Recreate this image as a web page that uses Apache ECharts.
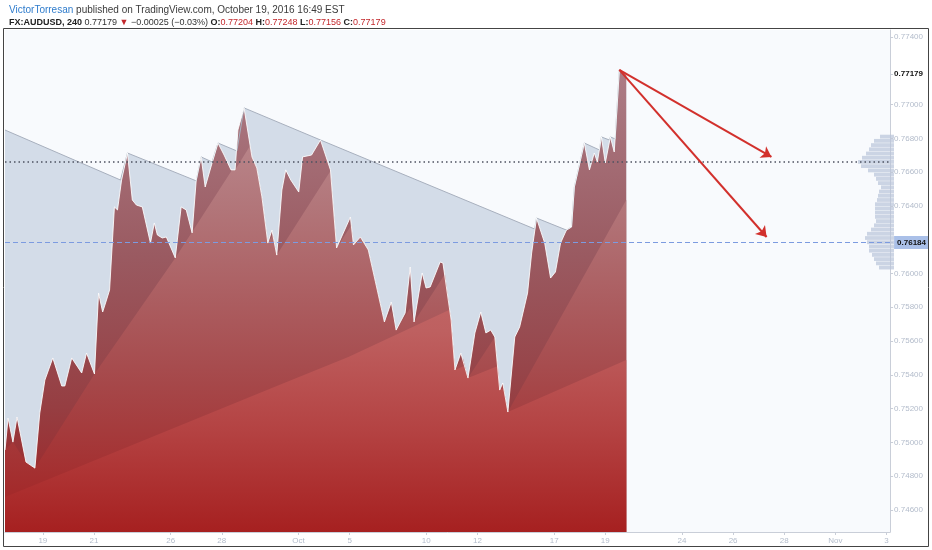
<!DOCTYPE html>
<html>
<head>
<meta charset="utf-8">
<title>FX:AUDUSD, 240</title>
<script src="https://cdn.jsdelivr.net/npm/echarts@6/dist/echarts.min.js"></script>
<style>
html,body{margin:0;padding:0;background:#fff;}
#main{width:932px;height:550px;}
</style>
</head>
<body>
<div id="main"></div>
<script>
// x = trading day index (Sep 19 = 0), y = AUDUSD price
let price_x = [-1.48,-1.36,-1.17,-1.01,-0.66,-0.31,-0.12,0.08,0.39,0.74,
    0.86,1.13,1.52,1.71,2.02,2.18,2.34,2.49,2.61,2.80,
    2.92,3.08,3.31,3.50,3.66,3.89,4.21,4.36,4.48,4.67,
    4.83,5.18,5.41,5.61,5.84,6.00,6.19,6.35,6.62,6.85,
    7.09,7.36,7.52,7.63,7.87,8.18,8.37,8.57,8.80,8.96,
    9.15,9.35,9.50,9.70,10.01,10.16,10.51,10.86,11.25,11.49,
    12.03,12.15,12.42,12.73,13.01,13.36,13.63,13.82,14.17,14.37,
    14.52,14.84,14.99,15.15,15.54,15.65,15.97,16.12,16.35,16.63,
    16.90,17.13,17.33,17.52,17.68,17.87,17.99,18.19,18.46,18.65,
    18.96,19.12,19.31,19.63,19.86,20.05,20.25,20.48,20.68,20.79,
    21.18,21.38,21.57,21.69,21.85,22.00,22.20,22.35,22.43,22.55,22.82];
let price_y = [0.74955,0.75144,0.75002,0.75150,0.74884,0.74848,0.75174,0.75369,0.75500,0.75334,
    0.75334,0.75500,0.75411,0.75529,0.75405,0.75884,0.75772,0.75843,0.75902,0.76394,
    0.76376,0.76553,0.76713,0.76435,0.76405,0.76394,0.76180,0.76299,0.76228,0.76210,
    0.76216,0.76092,0.76394,0.76376,0.76240,0.76553,0.76690,0.76512,0.76654,0.76772,
    0.76701,0.76613,0.76613,0.76849,0.76980,0.76690,0.76624,0.76453,0.76180,0.76257,
    0.76109,0.76494,0.76613,0.76553,0.76482,0.76690,0.76701,0.76790,0.76613,0.76151,
    0.76334,0.76169,0.76216,0.76139,0.75950,0.75713,0.75831,0.75665,0.75766,0.76038,
    0.75713,0.76003,0.75914,0.75920,0.76068,0.76062,0.75725,0.75429,0.75529,0.75381,
    0.75648,0.75772,0.75648,0.75665,0.75624,0.75310,0.75352,0.75180,0.75624,0.75683,
    0.75884,0.76121,0.76328,0.76180,0.75973,0.76009,0.76180,0.76257,0.76275,0.76512,
    0.76772,0.76613,0.76713,0.76660,0.76808,0.76654,0.76808,0.76719,0.76909,0.77205,0.77179];

// light blue band above the price (upper envelope)
let env_x = [-1.48,3.04,3.31,6.00,6.19,6.62,6.85,7.59,7.87,10.86,19.24,19.31,20.48,20.68,20.79,21.18,21.77,21.85,22.16,22.20,22.39,22.43,22.55,22.82];
let env_y = [0.76849,0.76553,0.76713,0.76548,0.76690,0.76660,0.76772,0.76725,0.76980,0.76790,0.76263,0.76328,0.76257,0.76275,0.76512,0.76772,0.76731,0.76808,0.76790,0.76808,0.76796,0.76909,0.77205,0.77179];

// lighter red wedges under the price
let mid_x = [-1.48,-1.17,-0.66,-0.31,2.02,5.18,7.40,7.52,8.10,8.18,8.37,8.57,8.80,9.00,9.15,11.25,11.49,12.07,12.15,12.42,12.73,13.01,13.36,13.63,13.82,14.37,14.52,15.73,15.97,16.12,16.43,16.63,17.68,17.87,17.99,18.19,22.82];
let mid_y = [0.74955,0.75002,0.74884,0.74848,0.75405,0.76092,0.76613,0.76613,0.76755,0.76690,0.76624,0.76453,0.76180,0.76228,0.76109,0.76607,0.76151,0.76287,0.76169,0.76216,0.76139,0.75950,0.75713,0.75778,0.75665,0.75796,0.75713,0.75997,0.75725,0.75429,0.75500,0.75381,0.75624,0.75310,0.75340,0.75180,0.76435];
let low_x = [-1.48,9.15,11.95,15.89,15.97,16.12,16.47,16.63,17.80,17.87,18.03,18.19,22.82];
let low_y = [0.74677,0.75334,0.75506,0.75784,0.75725,0.75429,0.75452,0.75381,0.75452,0.75310,0.75322,0.75180,0.75488];

// volume profile on the right
let vp_price = [0.7681,0.76785,0.7676,0.76735,0.7671,0.76685,0.7666,0.76635,0.7661,0.76585,0.7656,0.76535,0.7651,0.76485,0.7646,0.76435,
    0.7641,0.76385,0.7636,0.76335,0.7631,0.76285,0.7626,0.76235,0.7621,0.76185,0.7616,0.76135,0.7611,0.76085,0.7606,0.76035];
let vp_size = [14,20,23,25,28,32,36,33,26,20,18,16,13,15,16,17,19,19,19,19,18,20,23,27,29,27,25,25,22,20,18,15];

let x_tick_pos = [0,2,5,7,10,12,15,17,20,22,25,27,29,31,33];
let x_tick_name = ['19','21','26','28','Oct','5','10','12','17','19','24','26','28','Nov','3'];
let y_ticks = [0.746,0.748,0.750,0.752,0.754,0.756,0.758,0.760,0.764,0.766,0.768,0.770,0.774];
let last_price = 0.77179;
let level_price = 0.76184;
let poc_price = 0.7666;
let arrow_from = [22.55,0.77205];
let arrow_to = [[28.50,0.76690],[28.31,0.76216]];

let y_min = 0.7447, y_max = 0.77441;

function zip(a,b){
    let out = [];
    for(let i=0;i<a.length;i++) out.push([a[i],b[i]]);
    return out;
}
//vertical gradient in page pixels so all layers share one colour scale
function grad(stops){
    let s = [];
    for(let st of stops) s.push({offset:st[0],color:st[1]});
    return new echarts.graphic.LinearGradient(0,30,0,532,s,true);
}

let chart = echarts.init(document.getElementById('main'));
let font = 'Liberation Sans';
let red = '#c3282c';

let option = {
    animation:false,
    backgroundColor:'#ffffff',
    textStyle:{fontFamily:font},
    title:[{
        left:4, top:0,
        text:'{u|VictorTorresan} published on TradingView.com, October 19, 2016 16:49 EST',
        textStyle:{fontSize:10,fontWeight:'normal',color:'#3b3b3b',fontFamily:font,
            rich:{u:{fontSize:10,color:'#2f7ccc',fontFamily:font}}}
    },{
        left:4, top:13,
        text:'{b|FX:AUDUSD, 240} 0.77179 {r|▼} −0.00025 (−0.03%) {b|O:}{r|0.77204} {b|H:}{r|0.77248} {b|L:}{r|0.77156} {b|C:}{r|0.77179}',
        textStyle:{fontSize:9,fontWeight:'normal',color:'#333',fontFamily:font,
            rich:{
                b:{fontSize:9,fontWeight:'bold',color:'#222',fontFamily:font},
                r:{fontSize:9,color:red,fontFamily:font}
            }}
    }],
    grid:[
        {left:5,right:38,top:30,bottom:18,show:true,backgroundColor:'#f8fafd',borderWidth:0},
        {left:850,right:38,top:30,bottom:18}
    ],
    xAxis:[{
        type:'value', min:-1.48, max:33.14,
        splitLine:{show:false},
        axisLine:{onZero:false,lineStyle:{color:'#c9ced8'}},
        axisTick:{customValues:x_tick_pos,length:3,lineStyle:{color:'#c9ced8'}},
        axisLabel:{customValues:x_tick_pos,fontSize:8,color:'#b3bccb',margin:5,
            formatter:function(v){ return x_tick_name[x_tick_pos.indexOf(v)]; }}
    },{
        type:'value', gridIndex:1, inverse:true, min:0, max:44, show:false
    }],
    yAxis:[{
        type:'value', position:'right', min:y_min, max:y_max,
        splitLine:{show:false},
        axisLine:{show:true,onZero:false,lineStyle:{color:'#c9ced8'}},
        axisTick:{show:true,customValues:y_ticks.concat([last_price,level_price]),length:3,lineStyle:{color:'#c9ced8'}},
        axisLabel:{customValues:y_ticks.concat([last_price,level_price]),fontSize:8,margin:4,
            formatter:function(v){
                if(v===last_price) return '{c|'+v.toFixed(5)+'}';
                if(v===level_price) return '{h|'+v.toFixed(5)+'}';
                return '{n|'+v.toFixed(5)+'}';
            },
            rich:{
                n:{fontSize:8,color:'#b3bccb',fontFamily:font},
                c:{fontSize:8,color:'#111',fontWeight:'bold',fontFamily:font},
                h:{fontSize:8,color:'#111',fontWeight:'bold',fontFamily:font,backgroundColor:'#aac0e8',padding:[3,3,2,3]}
            }}
    },{
        type:'value', gridIndex:1, min:y_min, max:y_max, show:false
    }],
    series:[
        {
            name:'envelope', type:'line', symbol:'none',
            data:zip(env_x,env_y),
            lineStyle:{color:'#a8b0be',width:1},
            areaStyle:{color:'#d3dce8',opacity:1,origin:'start'}
        },
        {
            name:'AUDUSD', type:'line', symbol:'none',
            data:zip(price_x,price_y),
            lineStyle:{width:0},
            areaStyle:{opacity:1,origin:'start',color:grad([
                [0,'rgb(176,132,142)'],[0.45,'rgb(154,90,97)'],[0.75,'rgb(150,62,66)'],[1,'rgb(160,30,32)']])}
        },
        {
            name:'mid', type:'line', symbol:'none',
            data:zip(mid_x,mid_y),
            lineStyle:{width:0},
            areaStyle:{opacity:1,origin:'start',color:grad([
                [0,'rgb(196,158,165)'],[0.35,'rgb(178,118,122)'],[0.7,'rgb(166,72,74)'],[1,'rgb(163,32,32)']])}
        },
        {
            name:'low', type:'line', symbol:'none',
            data:zip(low_x,low_y),
            lineStyle:{width:0},
            areaStyle:{opacity:1,origin:'start',color:grad([
                [0,'rgb(205,130,130)'],[0.6,'rgb(190,96,96)'],[0.8,'rgb(180,66,66)'],[1,'rgb(166,32,32)']])},
            markLine:{
                silent:true, symbol:['none','none'], precision:5, label:{show:false},
                data:[
                    {yAxis:poc_price,lineStyle:{color:'#4d5260',type:[1.5,3],width:1.5}},
                    {yAxis:level_price,lineStyle:{color:'#7c9be0',type:[5,3],width:1.2}}
                ]
            }
        },
        {
            name:'close', type:'line', symbol:'none',
            data:zip(price_x,price_y),
            lineStyle:{color:'rgba(255,255,255,0.85)',width:1},
            markLine:{
                silent:true, symbol:['none','arrow'], symbolSize:10, precision:5, label:{show:false},
                lineStyle:{color:'#d2302c',width:2,type:'solid'},
                data:[
                    [{coord:arrow_from},{coord:arrow_to[0]}],
                    [{coord:arrow_from},{coord:arrow_to[1]}]
                ]
            }
        },
        {
            name:'volume', type:'custom', xAxisIndex:1, yAxisIndex:1, z:1,
            data:zip(vp_size,vp_price),
            renderItem:function(params,api){
                let a = api.coord([api.value(0),api.value(1)+0.000112]);
                let b = api.coord([0,api.value(1)-0.000112]);
                return {
                    type:'rect',
                    shape:{x:Math.min(a[0],b[0]),y:a[1],width:Math.abs(b[0]-a[0]),height:b[1]-a[1]},
                    style:{fill:'rgba(186,197,218,0.72)'}
                };
            }
        }
    ],
    graphic:[{
        type:'rect', silent:true, z:100,
        shape:{x:3.5,y:28.5,width:925,height:518},
        style:{fill:'none',stroke:'#444',lineWidth:1}
    }]
};
chart.setOption(option);
</script>
</body>
</html>
